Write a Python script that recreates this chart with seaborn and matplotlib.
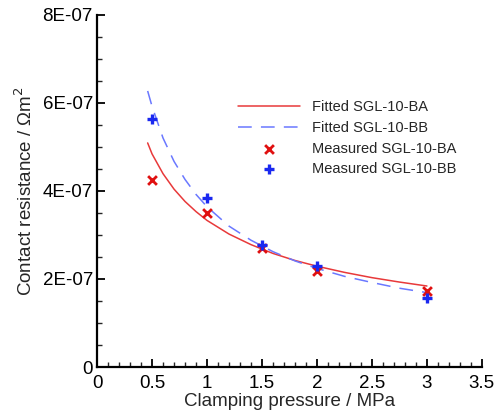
import numpy as np
import pandas as pd
import matplotlib
matplotlib.use("Agg")
import matplotlib.pyplot as plt
import seaborn as sns
from matplotlib.ticker import FuncFormatter, MultipleLocator

# Measured contact resistance (Ohm m^2)
pressure = [0.5, 1.0, 1.5, 2.0, 3.0]
measured_ba = [4.25e-07, 3.50e-07, 2.70e-07, 2.18e-07, 1.73e-07]
measured_bb = [5.64e-07, 3.85e-07, 2.77e-07, 2.30e-07, 1.57e-07]

# Fitted curves
fit_pressure = [0.46, 0.5, 0.6, 0.7, 0.8, 0.9, 1.0, 1.2, 1.4, 1.6, 1.8, 2.0, 2.25, 2.5, 2.75, 3.0]
fit_ba = [5.09e-07, 4.84e-07, 4.39e-07, 4.04e-07, 3.76e-07, 3.53e-07, 3.33e-07, 3.02e-07,
          2.78e-07, 2.58e-07, 2.42e-07, 2.29e-07, 2.15e-07, 2.03e-07, 1.93e-07, 1.84e-07]
fit_bb = [6.27e-07, 5.92e-07, 5.20e-07, 4.67e-07, 4.26e-07, 3.92e-07, 3.64e-07, 3.20e-07,
          2.88e-07, 2.62e-07, 2.41e-07, 2.24e-07, 2.06e-07, 1.92e-07, 1.79e-07, 1.69e-07]

fit_df = pd.DataFrame({"p": fit_pressure, "ba": fit_ba, "bb": fit_bb})
meas_df = pd.DataFrame({"p": pressure, "ba": measured_ba, "bb": measured_bb})

sns.set_style("ticks")
plt.rcParams['font.family'] = ['Liberation Sans', 'DejaVu Sans']

fig = plt.figure(figsize=(5.03, 4.11), dpi=100)
ax = fig.add_axes([0.193, 0.107, 0.765, 0.857])

sns.lineplot(data=fit_df, x="p", y="ba", ax=ax, color='#e8393a', lw=1.1,
             label="Fitted SGL-10-BA")
sns.lineplot(data=fit_df, x="p", y="bb", ax=ax, color='#6a78ff', lw=1.1,
             dashes=False, label="Fitted SGL-10-BB")
ax.lines[1].set_dashes([9, 6])
sns.scatterplot(data=meas_df, x="p", y="ba", ax=ax, marker='x', color='#e01010',
                s=40, linewidth=2, label="Measured SGL-10-BA", zorder=5)
sns.scatterplot(data=meas_df, x="p", y="bb", ax=ax, marker='+', color='#1a28f0',
                s=60, linewidth=2.4, label="Measured SGL-10-BB", zorder=5)

ax.set_xlim(0, 3.5)
ax.set_ylim(0, 8e-07)
ax.xaxis.set_major_locator(MultipleLocator(0.5))
ax.xaxis.set_minor_locator(MultipleLocator(0.1))
ax.yaxis.set_major_locator(MultipleLocator(2e-07))
ax.yaxis.set_minor_locator(MultipleLocator(0.5e-07))
ax.xaxis.set_major_formatter(FuncFormatter(lambda v, _: "0" if v == 0 else f"{v:g}"))
ax.yaxis.set_major_formatter(FuncFormatter(
    lambda v, _: "0" if abs(v) < 1e-12 else f"{v:.0E}"))

ax.tick_params(which='major', direction='in', length=6, width=1.3, labelsize=13.5, colors='black')
ax.tick_params(which='minor', direction='in', length=3.5, width=1.0)
ax.tick_params(axis='x', pad=6)
ax.tick_params(axis='y', pad=3)
for s in ['top', 'right']:
    ax.spines[s].set_visible(False)
for s in ['left', 'bottom']:
    ax.spines[s].set_linewidth(1.6)
    ax.spines[s].set_color('black')

ax.set_xlabel("Clamping pressure / MPa", fontsize=13.5, labelpad=0.5)
ax.set_ylabel("Contact resistance / Ωm$^2$", fontsize=13.5, labelpad=5)

ax.legend(loc='upper left', bbox_to_anchor=(0.365, 0.757), frameon=False, fontsize=10.5,
          handlelength=4.3, handletextpad=0.8, labelspacing=0.45, borderpad=0, borderaxespad=0)

fig.savefig("out.png", dpi=100)
